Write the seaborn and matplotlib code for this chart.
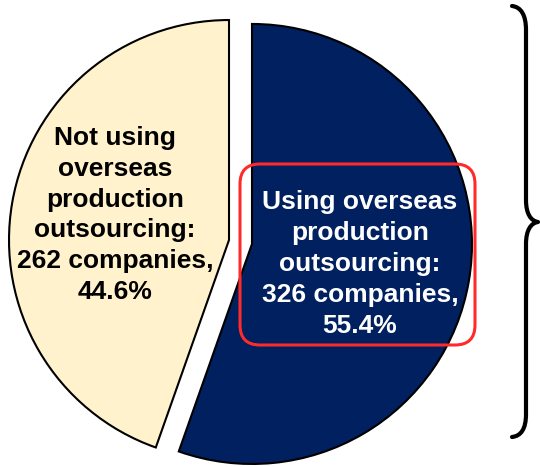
import matplotlib
matplotlib.use("Agg")
import matplotlib.pyplot as plt
from matplotlib.patches import FancyBboxPatch, PathPatch
from matplotlib.path import Path
import seaborn as sns

# Survey result: companies using / not using overseas production outsourcing
categories = ["Using overseas production outsourcing",
              "Not using overseas production outsourcing"]
companies = [326, 262]
shares = [55.4, 44.6]
colors = ["#002060", "#FFF2CC"]
text_colors = ["white", "black"]

sns.set_theme(style="white")
plt.rcParams["font.family"] = ["Liberation Sans", "DejaVu Sans"]

W, H = 540, 467
fig = plt.figure(figsize=(W / 100, H / 100), dpi=100)

# Pie axes: unit radius, placed so the pie sits left of the brace
cx, cy, r = 240.5, H - 242, 220
ax = fig.add_axes([0, 0, 1, 1])
ax.pie(
    shares,
    colors=colors,
    startangle=90,
    counterclock=False,
    explode=[0.053, 0.053],
    radius=1,
    wedgeprops=dict(edgecolor="black", linewidth=1.5),
)
ax.set_xlim(-cx / r, (W - cx) / r)
ax.set_ylim(-cy / r, (H - cy) / r)
ax.set_aspect("equal", adjustable="box")
ax.axis("off")

# Overlay axes in pixel units for labels, highlight box and brace
ov = fig.add_axes([0, 0, 1, 1], facecolor="none")
ov.set_xlim(0, W)
ov.set_ylim(0, H)
ov.axis("off")

label_pos = [(360, H - 264), (115, H - 215)]
for cat, n, pct, (tx, ty), tc in zip(categories, companies, shares, label_pos, text_colors):
    if cat.startswith("Using"):
        txt = f"Using overseas\nproduction\noutsourcing:\n{n} companies,\n{pct}%"
    else:
        txt = f"Not using\noverseas\nproduction\noutsourcing:\n{n} companies,\n{pct}%"
    ov.text(tx, ty, txt, ha="center", va="center", multialignment="center",
            fontsize=19, fontweight="bold", color=tc, linespacing=1.36)

# Highlight box around the larger share
box = FancyBboxPatch((240, H - 345), 235, 181,
                     boxstyle="round,pad=0,rounding_size=20",
                     fill=False, edgecolor="#FF2A2A", linewidth=2.2)
ov.add_patch(box)

# Curly brace on the right
def p(x, y):
    return (x, H - y)

verts = [
    p(512, 6), p(521, 7), p(526, 15), p(526, 30),
    p(526, 200),
    p(526, 214), p(531, 221), p(538, 222),
    p(531, 223), p(526, 230), p(526, 244),
    p(526, 414),
    p(526, 429), p(521, 436), p(512, 437),
]
codes = [Path.MOVETO, Path.CURVE4, Path.CURVE4, Path.CURVE4,
         Path.LINETO,
         Path.CURVE4, Path.CURVE4, Path.CURVE4,
         Path.CURVE4, Path.CURVE4, Path.CURVE4,
         Path.LINETO,
         Path.CURVE4, Path.CURVE4, Path.CURVE4]
brace = PathPatch(Path(verts, codes), fill=False, edgecolor="black",
                  linewidth=3, capstyle="round", joinstyle="round")
ov.add_patch(brace)

fig.savefig("out.png", dpi=100, facecolor="white")
